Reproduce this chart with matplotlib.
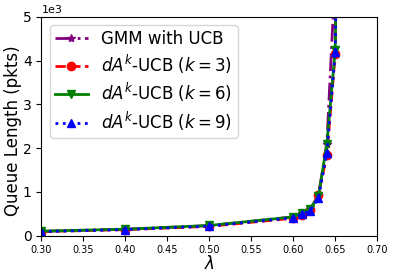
import numpy as np
import matplotlib.pyplot as plt

lam = [0.30, 0.40, 0.50, 0.60, 0.61, 0.62, 0.63, 0.64, 0.65, 0.66]
gmm_ucb = [100, 150, 230, 430, 510, 600, 920, 2100, 6000, 20000]
dak_3 = [95, 140, 215, 400, 480, 580, 940, 1850, 4150, 20000]
dak_6 = [105, 150, 235, 430, 520, 610, 900, 2100, 4250, 20000]
dak_9 = [95, 140, 220, 410, 490, 570, 860, 1900, 4200, 20000]

fig, ax = plt.subplots(figsize=(3.95, 2.79), dpi=100)
ax.plot(lam, gmm_ucb, color='purple', linestyle='-.', marker='*', linewidth=2, markersize=6, label='GMM with UCB')
ax.plot(lam, dak_3, color='red', linestyle='--', marker='o', linewidth=2, markersize=6, label=r'$dA^k$-UCB ($k=3$)')
ax.plot(lam, dak_6, color='green', linestyle='-', marker='v', linewidth=2, markersize=6, label=r'$dA^k$-UCB ($k=6$)')
ax.plot(lam, dak_9, color='blue', linestyle=':', marker='^', linewidth=2, markersize=6, label=r'$dA^k$-UCB ($k=9$)')

ax.set_xlim(0.30, 0.70)
ax.set_ylim(0, 5000)
ax.set_xticks(np.arange(0.30, 0.701, 0.05))
ax.ticklabel_format(axis='y', style='sci', scilimits=(3, 3))
ax.yaxis.get_offset_text().set_fontsize(8)
ax.tick_params(axis='x', labelsize=7)
ax.tick_params(axis='y', labelsize=10)
ax.set_xlabel(r'$\lambda$', fontsize=12, labelpad=0)
ax.set_ylabel('Queue Length (pkts)', fontsize=12)
ax.yaxis.set_label_coords(-0.058, 0.48)
ax.legend(loc='upper left', fontsize=12, labelspacing=0.3, borderpad=0.3)

plt.subplots_adjust(left=0.105, right=0.955, top=0.94, bottom=0.155)
plt.savefig('out.png', dpi=100)
